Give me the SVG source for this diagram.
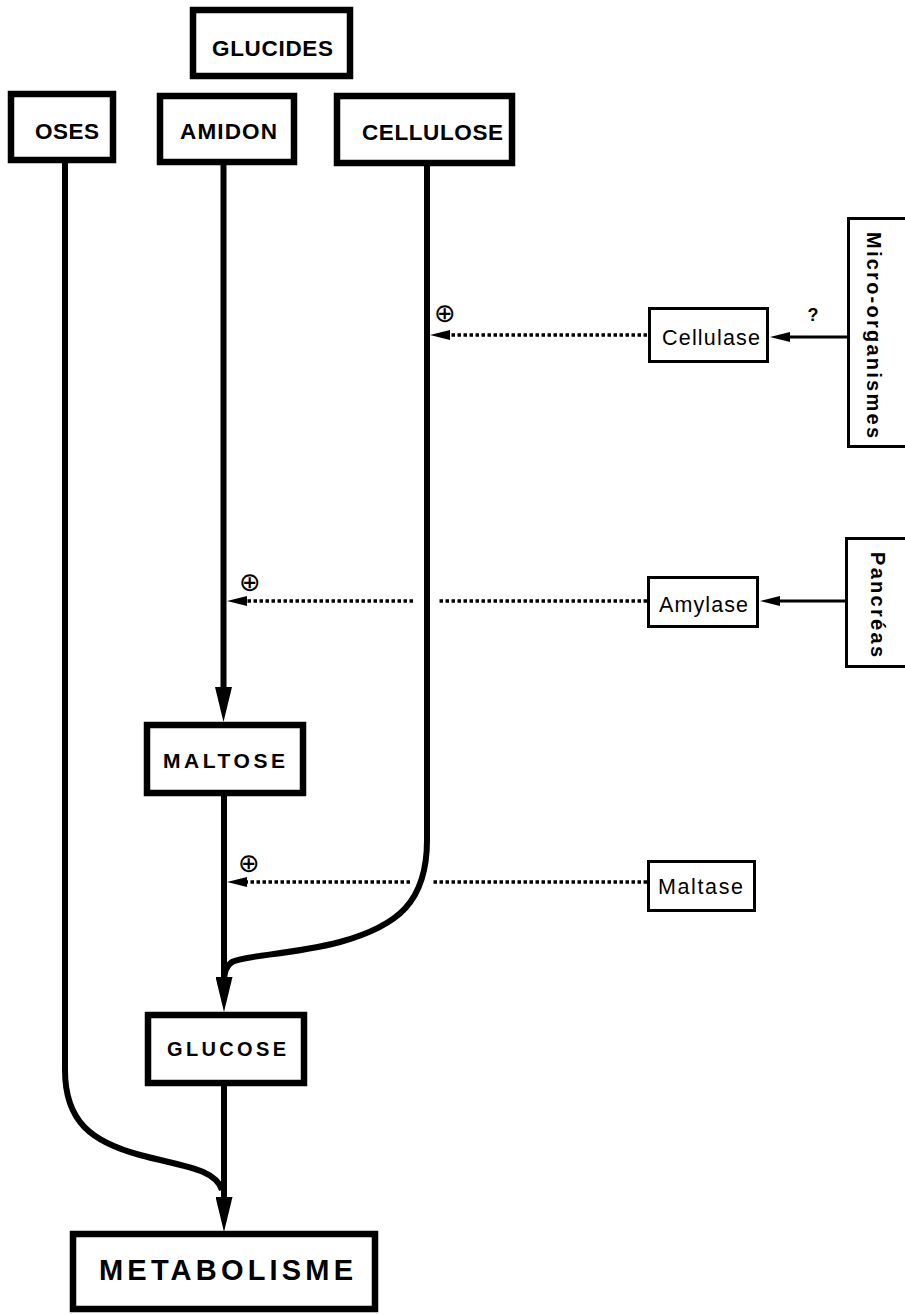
<svg xmlns="http://www.w3.org/2000/svg" width="905" height="1314" viewBox="0 0 905 1314">
<style>
.main{fill:#fff;stroke:#000;stroke-width:6.5}
.enz{fill:#fff;stroke:#000;stroke-width:3}
.src{fill:#fff;stroke:#000;stroke-width:3}
.tb{font-family:"Liberation Sans",Arial,sans-serif;font-weight:bold;fill:#000}
.tr{font-family:"Liberation Sans",Arial,sans-serif;fill:#000}
.line{fill:none;stroke:#000;stroke-width:6}
.dot{fill:none;stroke:#000;stroke-width:3.5;stroke-dasharray:3.5 2.5}
.thin{fill:none;stroke:#000;stroke-width:3}
.plus{font-family:"DejaVu Sans",sans-serif;font-size:26px;fill:#000}
</style>
<defs>
<marker id="big" markerUnits="userSpaceOnUse" markerWidth="35" markerHeight="17" refX="13" refY="8.5" orient="auto">
<path d="M0,0 L35,8.5 L0,17 z" fill="#000"/>
</marker>
<marker id="small" markerUnits="userSpaceOnUse" markerWidth="20" markerHeight="10" refX="4" refY="5" orient="auto">
<path d="M0,0 L20,5 L0,10 z" fill="#000"/>
</marker>
</defs>
<g id="connectors">
<path class="line" d="M65,163 V1070 C65,1122 92,1142 140,1155 C180,1166 215,1168 222,1190"/>
<path class="line" d="M224,1086 V1210" marker-end="url(#big)"/>
<path class="line" d="M223.5,165 V700" marker-end="url(#big)"/>
<path class="line" d="M224,796 V990" marker-end="url(#big)"/>
<path class="line" d="M427,166 V840 C427,902 398,926 340,942 C290,955 245,955 232,962 C226,966 224,972 224,985"/>
<path class="dot" d="M647,335 H446" marker-end="url(#small)"/>
<path class="dot" d="M647,601 H437"/>
<path class="dot" d="M413,601 H243" marker-end="url(#small)"/>
<path class="dot" d="M647,882 H432"/>
<path class="dot" d="M410,882 H243" marker-end="url(#small)"/>
<path class="thin" d="M847,337 H786" marker-end="url(#small)"/>
<path class="thin" d="M845,601 H776" marker-end="url(#small)"/>
<text class="plus" x="445" y="313" text-anchor="middle" dominant-baseline="central">⊕</text>
<text class="plus" x="250" y="582" text-anchor="middle" dominant-baseline="central">⊕</text>
<text class="plus" x="249" y="863" text-anchor="middle" dominant-baseline="central">⊕</text>
<text class="tb" x="813" y="321" font-size="18" text-anchor="middle">?</text>
</g>
<g id="glucides">
<rect class="main" x="193" y="10" width="157" height="66"/>
<text class="tb" x="272.5" y="56" font-size="22.5" text-anchor="middle" textLength="121" lengthAdjust="spacing">GLUCIDES</text>
</g>
<g id="oses">
<rect class="main" x="11" y="94" width="102" height="66"/>
<text class="tb" x="67" y="139" font-size="22.5" text-anchor="middle" textLength="64" lengthAdjust="spacing">OSES</text>
</g>
<g id="amidon">
<rect class="main" x="160" y="96" width="134" height="66"/>
<text class="tb" x="228.5" y="139" font-size="22.5" text-anchor="middle" textLength="97" lengthAdjust="spacing">AMIDON</text>
</g>
<g id="cellulose">
<rect class="main" x="337" y="96" width="175" height="67"/>
<text class="tb" x="432.5" y="140" font-size="22.5" text-anchor="middle" textLength="141" lengthAdjust="spacing">CELLULOSE</text>
</g>
<g id="maltose">
<rect class="main" x="147" y="725" width="156" height="68"/>
<text class="tb" x="224" y="768" font-size="21" text-anchor="middle" textLength="122" lengthAdjust="spacing">MALTOSE</text>
</g>
<g id="glucose">
<rect class="main" x="148" y="1015" width="156" height="68"/>
<text class="tb" x="226.5" y="1056" font-size="20" text-anchor="middle" textLength="119" lengthAdjust="spacing">GLUCOSE</text>
</g>
<g id="metabolisme">
<rect class="main" x="73" y="1234" width="302" height="75"/>
<text class="tb" x="226" y="1280" font-size="29" text-anchor="middle" textLength="254" lengthAdjust="spacing">METABOLISME</text>
</g>
<g id="cellulase">
<rect class="enz" x="649.5" y="308.5" width="118" height="53"/>
<text class="tr" x="711" y="345" font-size="21.5" text-anchor="middle" textLength="98" lengthAdjust="spacing">Cellulase</text>
</g>
<g id="amylase">
<rect class="enz" x="648.5" y="577.5" width="109" height="49"/>
<text class="tr" x="703.5" y="612" font-size="21.5" text-anchor="middle" textLength="89" lengthAdjust="spacing">Amylase</text>
</g>
<g id="maltase">
<rect class="enz" x="648.5" y="861.5" width="106" height="49"/>
<text class="tr" x="700.5" y="894" font-size="21.5" text-anchor="middle" textLength="85" lengthAdjust="spacing">Maltase</text>
</g>
<g id="micro-organismes">
<rect class="src" x="848.5" y="218.5" width="70" height="228"/>
<text class="tb" transform="translate(867,335) rotate(90)" font-size="20" text-anchor="middle" textLength="206" lengthAdjust="spacing">Micro-organismes</text>
</g>
<g id="pancreas">
<rect class="src" x="846.5" y="538.5" width="70" height="128"/>
<text class="tb" transform="translate(871,604.5) rotate(90)" font-size="20" text-anchor="middle" textLength="105" lengthAdjust="spacing">Pancréas</text>
</g>
</svg>
